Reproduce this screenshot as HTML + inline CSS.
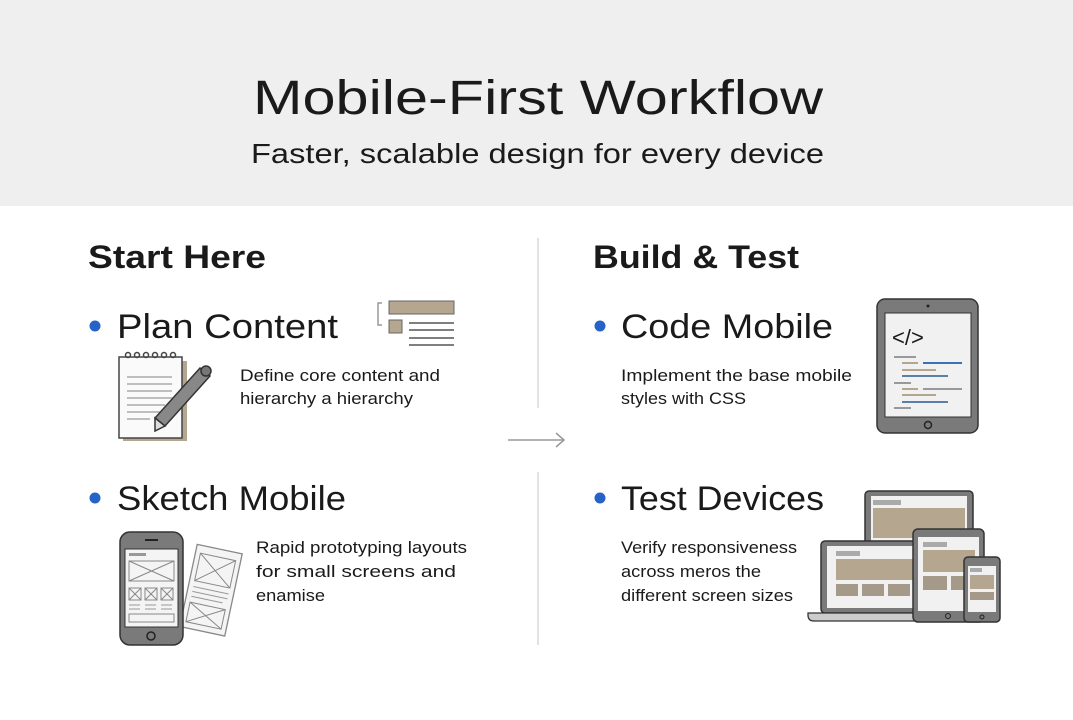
<!DOCTYPE html>
<html><head><meta charset="utf-8"><style>
html,body{margin:0;padding:0;background:#fff}
svg{display:block}
text{font-family:"Liberation Sans",sans-serif;fill:#1a1a1a}
</style></head><body>
<svg width="1073" height="720" viewBox="0 0 1073 720" xmlns="http://www.w3.org/2000/svg">
<rect x="0" y="0" width="1073" height="206" fill="#efefef"/>
<text x="253" y="114" font-size="48" textLength="570" lengthAdjust="spacingAndGlyphs">Mobile-First Workflow</text>
<text x="251" y="163" font-size="28" fill="#2a2a2a" textLength="573" lengthAdjust="spacingAndGlyphs">Faster, scalable design for every device</text>

<text x="88" y="268" font-size="32" font-weight="bold" fill="#1c1c1c" textLength="178" lengthAdjust="spacingAndGlyphs">Start Here</text>
<text x="593" y="268" font-size="32" font-weight="bold" fill="#1c1c1c" textLength="206" lengthAdjust="spacingAndGlyphs">Build &amp; Test</text>

<line x1="538" y1="238" x2="538" y2="408" stroke="#d8d8d8" stroke-width="1.5"/>
<line x1="538" y1="472" x2="538" y2="645" stroke="#d8d8d8" stroke-width="1.5"/>
<line x1="508" y1="440" x2="564" y2="440" stroke="#999" stroke-width="1.5"/>
<polyline points="556,433 564,440 556,447" fill="none" stroke="#999" stroke-width="1.5"/>

<circle cx="95" cy="326" r="5.5" fill="#2563c9"/>
<text x="117" y="338" font-size="34" textLength="221" lengthAdjust="spacingAndGlyphs">Plan Content</text>
<circle cx="95" cy="498" r="5.5" fill="#2563c9"/>
<text x="117" y="510" font-size="34" textLength="229" lengthAdjust="spacingAndGlyphs">Sketch Mobile</text>
<circle cx="600" cy="326" r="5.5" fill="#2563c9"/>
<text x="621" y="338" font-size="34" textLength="212" lengthAdjust="spacingAndGlyphs">Code Mobile</text>
<circle cx="600" cy="498" r="5.5" fill="#2563c9"/>
<text x="621" y="510" font-size="34" textLength="203" lengthAdjust="spacingAndGlyphs">Test Devices</text>

<g font-size="17" fill="#333" lengthAdjust="spacingAndGlyphs">
<text x="240" y="381" textLength="200" lengthAdjust="spacingAndGlyphs">Define core content and</text>
<text x="240" y="404" textLength="173" lengthAdjust="spacingAndGlyphs">hierarchy a hierarchy</text>
<text x="256" y="553" textLength="211" lengthAdjust="spacingAndGlyphs">Rapid prototyping layouts</text>
<text x="256" y="577" textLength="200" lengthAdjust="spacingAndGlyphs">for small screens and</text>
<text x="256" y="601" textLength="69" lengthAdjust="spacingAndGlyphs">enamise</text>
<text x="621" y="381" textLength="231" lengthAdjust="spacingAndGlyphs">Implement the base mobile</text>
<text x="621" y="404" textLength="125" lengthAdjust="spacingAndGlyphs">styles with CSS</text>
<text x="621" y="553" textLength="176" lengthAdjust="spacingAndGlyphs">Verify responsiveness</text>
<text x="621" y="577" textLength="140" lengthAdjust="spacingAndGlyphs">across meros the</text>
<text x="621" y="601" textLength="172" lengthAdjust="spacingAndGlyphs">different screen sizes</text>
</g>

<path d="M382 303 h-4 v22 h4" fill="none" stroke="#999" stroke-width="1.5"/>
<rect x="389" y="301" width="65" height="13" fill="#b5a690" stroke="#666" stroke-width="1"/>
<rect x="389" y="320" width="13" height="13" fill="#b5a690" stroke="#666" stroke-width="1"/>
<g stroke="#555" stroke-width="1.5"><line x1="409" y1="323" x2="454" y2="323"/><line x1="409" y1="330" x2="454" y2="330"/><line x1="409" y1="338" x2="454" y2="338"/><line x1="409" y1="345" x2="454" y2="345"/></g>
<rect x="123" y="361" width="64" height="80" fill="#b5a690"/>
<rect x="119" y="357" width="63" height="81" fill="#fafafa" stroke="#444" stroke-width="1.5"/>
<g stroke="#444" stroke-width="1.5" fill="none"><circle cx="128" cy="355" r="2.5"/><circle cx="137" cy="355" r="2.5"/><circle cx="146" cy="355" r="2.5"/><circle cx="155" cy="355" r="2.5"/><circle cx="164" cy="355" r="2.5"/><circle cx="173" cy="355" r="2.5"/></g>
<g stroke="#aaa" stroke-width="1.5"><line x1="127" y1="377" x2="172" y2="377"/><line x1="127" y1="384" x2="172" y2="384"/><line x1="127" y1="391" x2="172" y2="391"/><line x1="127" y1="398" x2="172" y2="398"/><line x1="127" y1="405" x2="165" y2="405"/><line x1="127" y1="412" x2="160" y2="412"/><line x1="127" y1="419" x2="150" y2="419"/></g>
<path d="M200 368 l10 8 l-45 50 l-10 -8 z" fill="#888" stroke="#333" stroke-width="1.5"/>
<path d="M155 418 l10 8 l-10 5 z" fill="#ddd" stroke="#333" stroke-width="1.5"/>
<circle cx="206" cy="371" r="5" fill="#777" stroke="#333" stroke-width="1.5"/>

<g transform="rotate(12 210 590)"><rect x="188" y="548" width="46" height="84" fill="#f4f4f4" stroke="#888" stroke-width="1.3"/>
<rect x="193" y="556" width="36" height="28" fill="none" stroke="#888"/><path d="M193 556 L229 584 M229 556 L193 584" stroke="#888"/>
<g stroke="#999"><line x1="193" y1="590" x2="229" y2="590"/><line x1="193" y1="595" x2="229" y2="595"/><line x1="193" y1="600" x2="225" y2="600"/></g>
<rect x="193" y="606" width="36" height="20" fill="none" stroke="#888"/><path d="M193 606 L229 626 M229 606 L193 626" stroke="#888"/></g>
<rect x="120" y="532" width="63" height="113" rx="10" fill="#7a7a7a" stroke="#333" stroke-width="1.5"/>
<rect x="125" y="549" width="53" height="78" fill="#f4f4f4" stroke="#333"/>
<line x1="145" y1="540" x2="158" y2="540" stroke="#222" stroke-width="2"/>
<circle cx="151" cy="636" r="4" fill="none" stroke="#222" stroke-width="1.5"/>
<g stroke="#888" fill="none" stroke-width="1"><rect x="129" y="561" width="45" height="20"/><path d="M129 561 L174 581 M174 561 L129 581"/>
<rect x="129" y="588" width="12" height="12"/><path d="M129 588 l12 12 M141 588 l-12 12"/>
<rect x="145" y="588" width="12" height="12"/><path d="M145 588 l12 12 M157 588 l-12 12"/>
<rect x="161" y="588" width="12" height="12"/><path d="M161 588 l12 12 M173 588 l-12 12"/>
<rect x="129" y="614" width="45" height="8"/></g>
<rect x="129" y="553" width="17" height="3" fill="#999"/>
<g stroke="#999"><line x1="129" y1="605" x2="140" y2="605"/><line x1="145" y1="605" x2="156" y2="605"/><line x1="161" y1="605" x2="172" y2="605"/><line x1="129" y1="609" x2="140" y2="609"/><line x1="145" y1="609" x2="156" y2="609"/><line x1="161" y1="609" x2="172" y2="609"/></g>

<rect x="877" y="299" width="101" height="134" rx="8" fill="#7a7a7a" stroke="#333" stroke-width="1.5"/>
<rect x="885" y="313" width="86" height="104" fill="#f1f1f1" stroke="#333"/>
<circle cx="928" cy="306" r="1.5" fill="#222"/>
<circle cx="928" cy="425" r="3.5" fill="none" stroke="#222" stroke-width="1.5"/>
<text x="892" y="345" font-size="22" fill="#2b5a9a">&lt;/&gt;</text>
<g stroke-width="2"><line x1="894" y1="357" x2="916" y2="357" stroke="#999"/><line x1="902" y1="363" x2="918" y2="363" stroke="#b5a690"/><line x1="923" y1="363" x2="962" y2="363" stroke="#3b72b5"/><line x1="902" y1="370" x2="936" y2="370" stroke="#b5a690"/><line x1="902" y1="376" x2="948" y2="376" stroke="#5a7fa8"/><line x1="894" y1="383" x2="911" y2="383" stroke="#999"/><line x1="902" y1="389" x2="918" y2="389" stroke="#b5a690"/><line x1="923" y1="389" x2="962" y2="389" stroke="#999"/><line x1="902" y1="395" x2="936" y2="395" stroke="#b5a690"/><line x1="902" y1="402" x2="948" y2="402" stroke="#5a7fa8"/><line x1="894" y1="408" x2="911" y2="408" stroke="#999"/></g>

<rect x="865" y="491" width="108" height="63" rx="4" fill="#7a7a7a" stroke="#333" stroke-width="1.5"/>
<rect x="871" y="496" width="96" height="52" fill="#f1f1f1"/>
<rect x="873" y="500" width="28" height="5" fill="#aaa"/><rect x="873" y="508" width="92" height="30" fill="#b5a690"/>
<rect x="821" y="541" width="100" height="72" rx="4" fill="#7a7a7a" stroke="#333" stroke-width="1.5"/>
<rect x="827" y="546" width="88" height="62" fill="#f1f1f1"/>
<rect x="836" y="551" width="24" height="5" fill="#aaa"/><rect x="836" y="559" width="80" height="21" fill="#b5a690"/>
<rect x="836" y="584" width="22" height="12" fill="#a59a8a"/><rect x="862" y="584" width="22" height="12" fill="#a59a8a"/><rect x="888" y="584" width="22" height="12" fill="#a59a8a"/>
<path d="M808 613 h110 v8 h-104 q-6 0 -6 -6 z" fill="#ccc" stroke="#333" stroke-width="1.3"/>
<rect x="913" y="529" width="71" height="93" rx="5" fill="#7a7a7a" stroke="#333" stroke-width="1.5"/>
<rect x="918" y="537" width="61" height="74" fill="#f1f1f1"/>
<rect x="923" y="542" width="24" height="5" fill="#aaa"/><rect x="923" y="550" width="52" height="22" fill="#b5a690"/>
<rect x="923" y="576" width="24" height="14" fill="#a59a8a"/><rect x="951" y="576" width="24" height="14" fill="#a59a8a"/>
<circle cx="948" cy="616" r="2.5" fill="none" stroke="#222"/>
<rect x="964" y="557" width="36" height="65" rx="4" fill="#7a7a7a" stroke="#333" stroke-width="1.5"/>
<rect x="968" y="566" width="28" height="46" fill="#f1f1f1"/>
<rect x="970" y="568" width="12" height="4" fill="#aaa"/><rect x="970" y="575" width="24" height="14" fill="#b5a690"/><rect x="970" y="592" width="24" height="8" fill="#a59a8a"/>
<circle cx="982" cy="617" r="2" fill="none" stroke="#222"/>
</svg>
</body></html>
